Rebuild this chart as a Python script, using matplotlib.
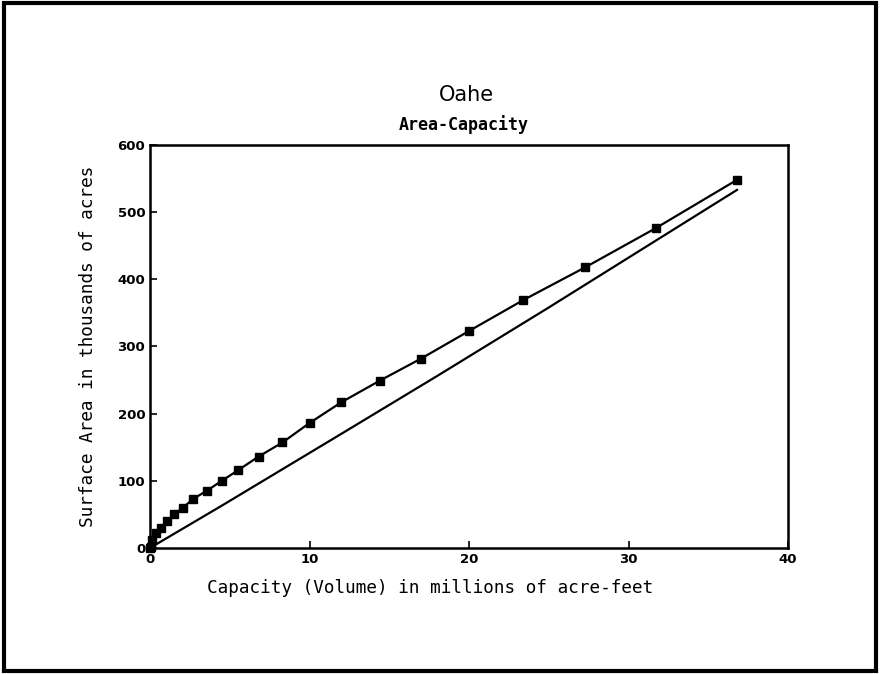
import matplotlib.pyplot as plt
from matplotlib.patches import Rectangle

# Area-capacity curve (squares): capacity in million acre-feet, area in thousand acres
capacity = [0.0, 0.05, 0.15, 0.36, 0.67, 1.08, 1.5, 2.07, 2.7, 3.55, 4.5, 5.54,
            6.8, 8.3, 10.0, 12.0, 14.4, 17.0, 20.0, 23.4, 27.3, 31.7, 36.8]
area = [0, 2, 12, 22, 30, 40, 50, 60, 73, 85, 100, 116,
        136, 157, 186, 217, 249, 282, 323, 369, 418, 476, 548]

# second (plain) line
line_x = [0.0, 4.5, 12.0, 18.0, 25.0, 31.0, 36.8]
line_y = [0, 63, 170, 256, 358, 447, 533]

x_ticks = [0, 10, 20, 30, 40]
y_ticks = [0, 100, 200, 300, 400, 500, 600]

fig = plt.figure(figsize=(8.8, 6.74), dpi=100)
ax = fig.add_axes([0.1705, 0.187, 0.725, 0.598])

ax.plot(capacity, area, color="black", linewidth=1.6, marker="s", markersize=6,
        clip_on=False)
ax.plot(line_x, line_y, color="black", linewidth=1.6, clip_on=False)

ax.set_xlim(0, 40)
ax.set_ylim(0, 600)
ax.set_xticks(x_ticks)
ax.set_yticks(y_ticks)
ax.tick_params(direction="in", length=5, width=1.2, labelsize=9.5)
for lab in ax.get_xticklabels() + ax.get_yticklabels():
    lab.set_fontweight("bold")
for s in ax.spines.values():
    s.set_linewidth(1.8)

mono = "DejaVu Sans Mono"
fig.text(0.489, 0.127, "Capacity (Volume) in millions of acre-feet", family=mono,
         fontsize=12.7, ha="center", va="center")
fig.text(0.1, 0.486, "Surface Area in thousands of acres", family=mono,
         fontsize=12.8, ha="center", va="center", rotation=90)

fig.text(0.53, 0.859, "Oahe", ha="center", va="center", fontsize=15)
fig.text(0.527, 0.815, "Area-Capacity", ha="center", va="center",
         fontsize=12, fontweight="bold", family=mono)

# outer border of the page
fig.patches.append(Rectangle((0.005, 0.004), 0.99, 0.991, transform=fig.transFigure,
                             fill=False, edgecolor="black", linewidth=3))

fig.savefig("out.png", dpi=100)
